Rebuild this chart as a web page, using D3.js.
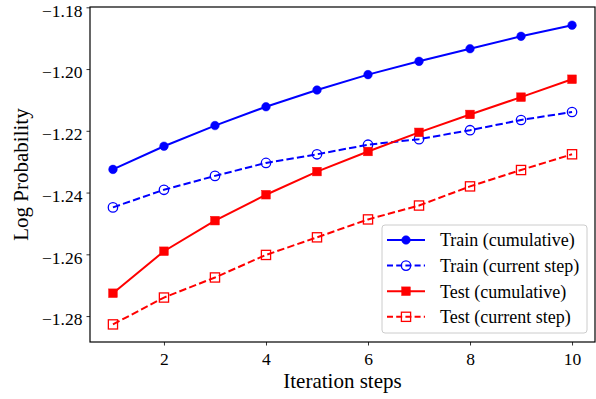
<!DOCTYPE html>
<html><head><meta charset="utf-8">
<script src="https://cdn.jsdelivr.net/npm/d3@7"></script>
<style>body{margin:0;background:#fff}svg{display:block}text{font-family:"Liberation Serif","Times New Roman",serif}</style>
</head><body><div id="chart"></div>
<script>
const steps = [1,2,3,4,5,6,7,8,9,10];
const trainCumulative = [-1.2325,-1.2250,-1.2183,-1.2122,-1.2068,-1.2018,-1.1975,-1.1934,-1.1894,-1.1858];
const trainCurrent   = [-1.2448,-1.2391,-1.2346,-1.2304,-1.2276,-1.2245,-1.2227,-1.2198,-1.2165,-1.2139];
const testCumulative = [-1.2726,-1.2590,-1.2491,-1.2407,-1.2332,-1.2267,-1.2205,-1.2147,-1.2091,-1.2033];
const testCurrent    = [-1.2827,-1.2740,-1.2675,-1.2602,-1.2545,-1.2487,-1.2442,-1.2380,-1.2327,-1.2276];
const xTicks = [2,4,6,8,10];
const yTicks = [-1.28,-1.26,-1.24,-1.22,-1.20,-1.18];
const seriesNames = ["Train (cumulative)","Train (current step)","Test (cumulative)","Test (current step)"];

const W=596,H=399;
const m={left:90,right:1,top:7,bottom:57};
const svg=d3.select("#chart").append("svg").attr("width",W).attr("height",H);
const x=d3.scaleLinear().domain([0.55,10.45]).range([m.left,W-m.right]);
const y=d3.scaleLinear().domain([-1.2884,-1.1799]).range([H-m.bottom,m.top]);

const series=[
 {name:seriesNames[0],vals:trainCumulative,color:"#0000ff",dash:null,marker:"circle",fill:true},
 {name:seriesNames[1],vals:trainCurrent,color:"#0000ff",dash:"7.4,3.2",marker:"circle",fill:false},
 {name:seriesNames[2],vals:testCumulative,color:"#ff0000",dash:null,marker:"square",fill:true},
 {name:seriesNames[3],vals:testCurrent,color:"#ff0000",dash:"7.4,3.2",marker:"square",fill:false}
];

const fmt=d=>(d<0?"\u2212":"")+d3.format(".2f")(Math.abs(d));
const xAxis=svg.append("g").attr("transform",`translate(0,${H-m.bottom})`)
 .call(d3.axisBottom(x).tickValues(xTicks).tickSize(3.5).tickPadding(7));
const yAxis=svg.append("g").attr("transform",`translate(${m.left},0)`)
 .call(d3.axisLeft(y).tickValues(yTicks).tickFormat(fmt).tickSize(3.5).tickPadding(4));
[xAxis,yAxis].forEach(g=>{g.select(".domain").remove();g.selectAll("text").attr("font-size",17.5).attr("font-family","Liberation Serif").attr("fill","#000");g.selectAll("line").attr("stroke","#000").attr("stroke-width",0.8);});
yAxis.selectAll("text").attr("dy","0.5em");

const line=d3.line().x((d,i)=>x(steps[i])).y(d=>y(d));
function drawMarker(g,type,cx,cy,color,fill){
  if(type==="circle") g.append("circle").attr("cx",cx).attr("cy",cy).attr("r",fill?4.3:4.7)
    .attr("fill",fill?color:"none").attr("stroke",color).attr("stroke-width",fill?0.5:1.3);
  else {const s=fill?8.6:9.2; g.append("rect").attr("x",cx-s/2).attr("y",cy-s/2).attr("width",s).attr("height",s)
    .attr("fill",fill?color:"none").attr("stroke",color).attr("stroke-width",fill?0.5:1.3);}
}
const plot=svg.append("g");
series.forEach(s=>{
  plot.append("path").datum(s.vals).attr("d",line).attr("fill","none").attr("stroke",s.color)
    .attr("stroke-width",2).attr("stroke-dasharray",s.dash);
  const mg=plot.append("g");
  s.vals.forEach((v,i)=>drawMarker(mg,s.marker,x(steps[i]),y(v),s.color,s.fill));
});

// frame
svg.append("rect").attr("x",m.left).attr("y",m.top).attr("width",W-m.right-m.left).attr("height",H-m.bottom-m.top)
 .attr("fill","none").attr("stroke","#000").attr("stroke-width",1.2);

// legend
const lg=svg.append("g");
lg.append("rect").attr("x",382).attr("y",225).attr("width",205).attr("height",108).attr("rx",3)
 .attr("fill","#fff").attr("fill-opacity",0.8).attr("stroke","#cccccc").attr("stroke-width",1);
series.forEach((s,i)=>{
  const yy=240+i*25.6;
  lg.append("line").attr("x1",387).attr("x2",425).attr("y1",yy).attr("y2",yy).attr("stroke",s.color)
    .attr("stroke-width",2).attr("stroke-dasharray",s.dash?"6,3.2":null);
  drawMarker(lg,s.marker,406,yy,s.color,s.fill);
  lg.append("text").attr("x",440).attr("y",yy).attr("dy","0.35em").attr("font-size",18).text(s.name);
});

// axis labels
svg.append("text").attr("x",(m.left+W-m.right)/2).attr("y",388).attr("text-anchor","middle").attr("font-size",21).text("Iteration steps");
svg.append("text").attr("transform",`translate(28,${(m.top+H-m.bottom)/2}) rotate(-90)`).attr("text-anchor","middle").attr("font-size",21).text("Log Probability");
</script></body></html>
